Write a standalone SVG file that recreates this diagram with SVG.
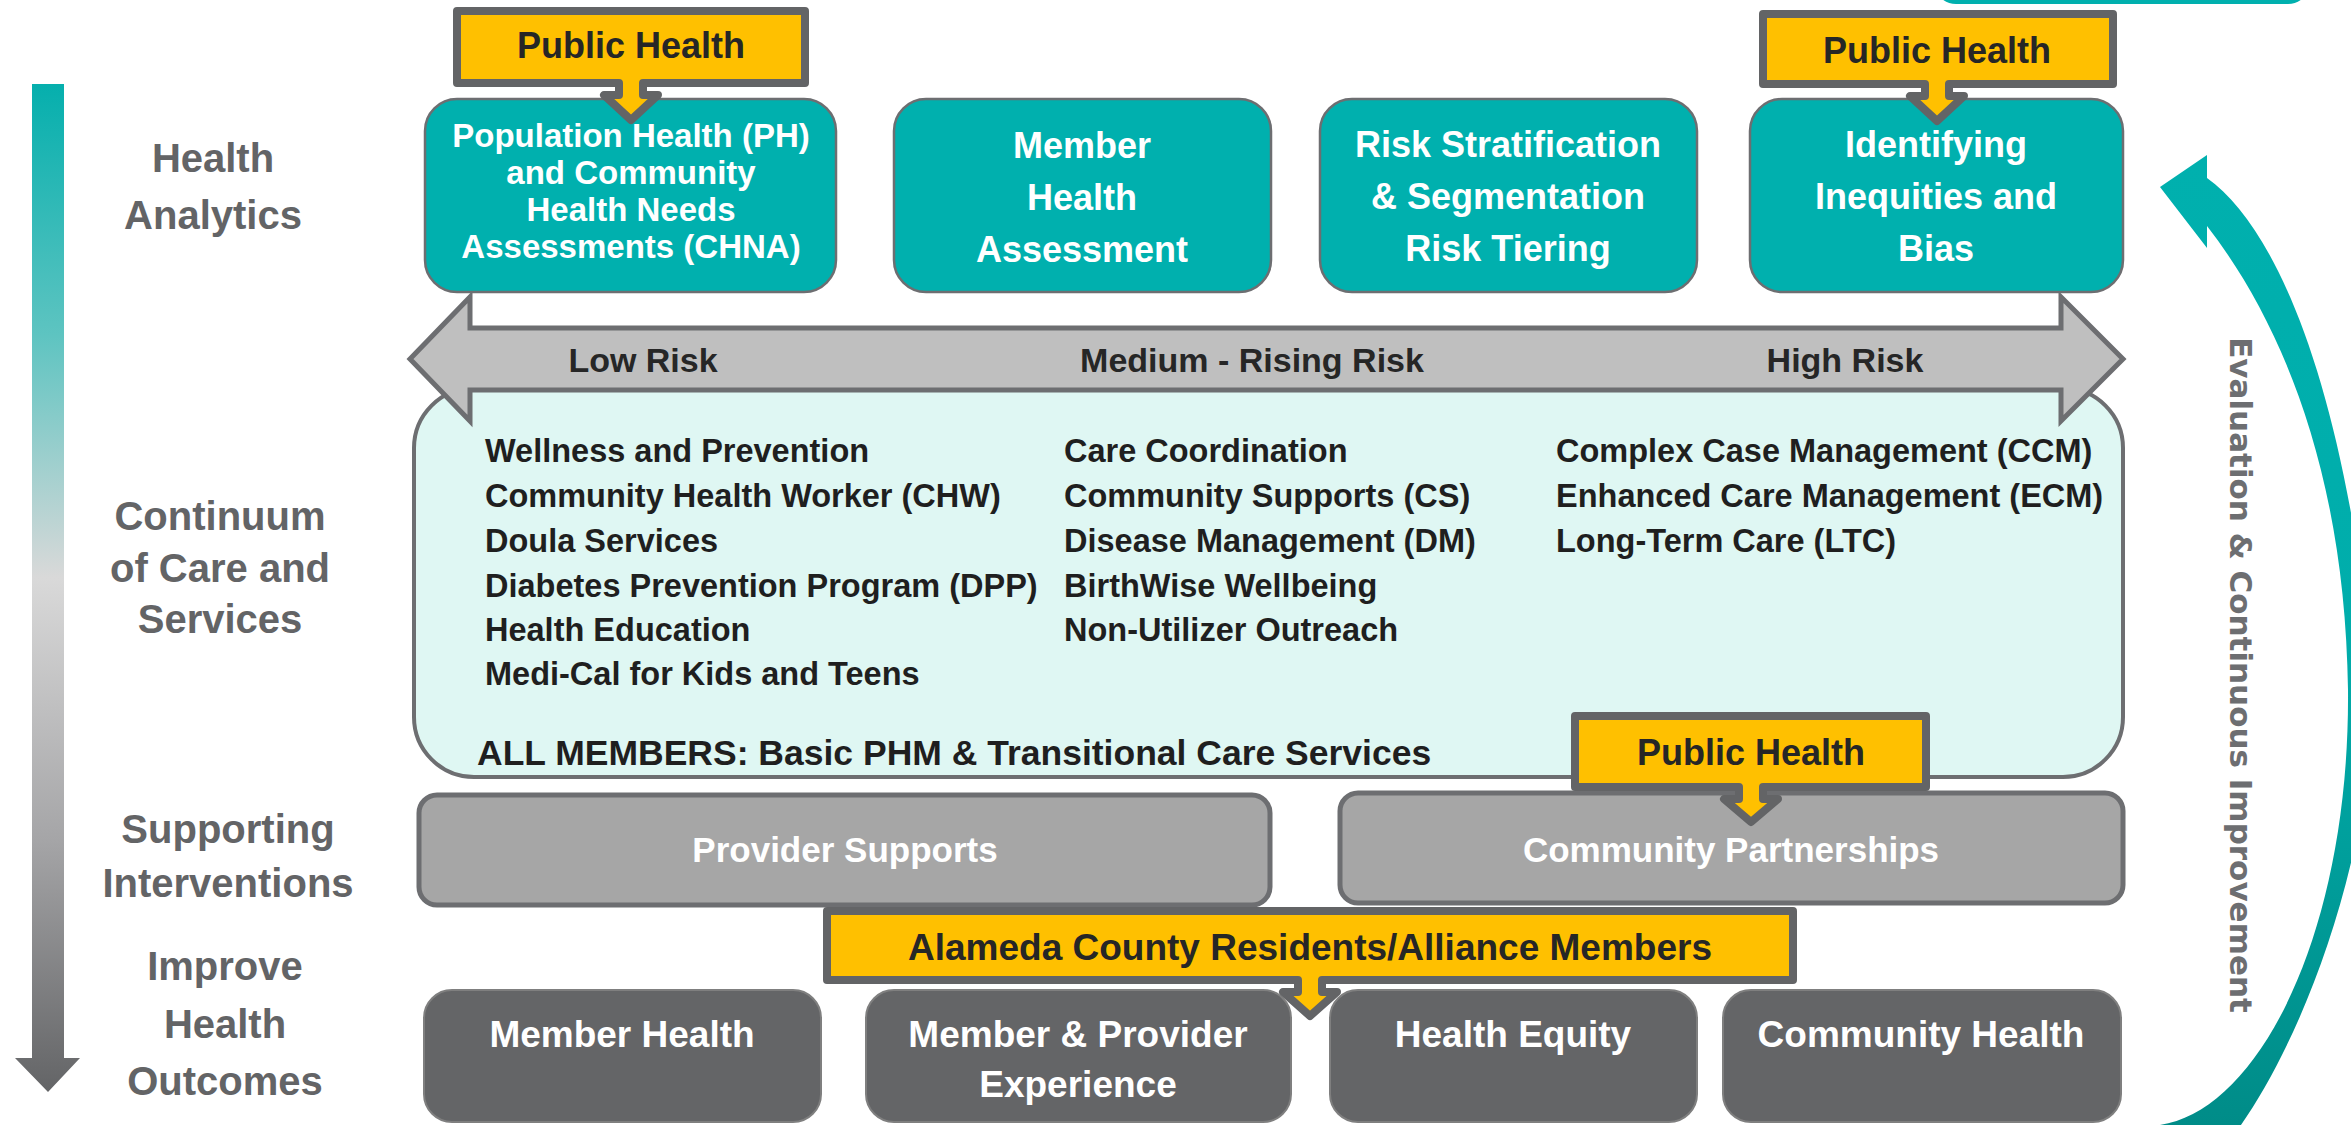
<svg xmlns="http://www.w3.org/2000/svg" width="2351" height="1125" viewBox="0 0 2351 1125">
<defs>
<linearGradient id="flowGrad" gradientUnits="userSpaceOnUse" x1="0" y1="84" x2="0" y2="1092">
<stop offset="0" stop-color="#05AFAD"/>
<stop offset="0.25" stop-color="#5EC4C1"/>
<stop offset="0.49" stop-color="#D9D9D9"/>
<stop offset="0.75" stop-color="#A5A5A7"/>
<stop offset="1" stop-color="#636466"/>
</linearGradient>
<linearGradient id="evalGrad" gradientUnits="userSpaceOnUse" x1="0" y1="150" x2="0" y2="1125">
<stop offset="0" stop-color="#00B0AE"/>
<stop offset="0.5" stop-color="#00ADAB"/>
<stop offset="1" stop-color="#008C88"/>
</linearGradient>
<style>
text{font-family:"Liberation Sans",Arial,sans-serif;font-weight:bold;}
.lbl{font-size:40px;fill:#636466;text-anchor:middle;}
.teal{fill:#00B0AE;stroke:#6D6E71;stroke-width:2.5;}
.tealtxt{fill:#FFFFFF;font-size:36px;text-anchor:middle;}
.call{fill:#FFC000;stroke:#636466;stroke-width:8;stroke-linejoin:round;}
.calltxt{fill:#262626;font-size:36px;text-anchor:middle;}
.risk{fill:#262626;font-size:34px;text-anchor:middle;}
.svc{fill:#1F1F1F;font-size:32.5px;}
.sup{fill:#A6A6A6;stroke:#6D6E71;stroke-width:5;}
.suptxt{fill:#FFFFFF;font-size:35px;text-anchor:middle;}
.out{fill:#646567;stroke:#7F7F7F;stroke-width:2;}
.outtxt{fill:#FFFFFF;font-size:37px;text-anchor:middle;}
</style>
</defs>
<rect x="0" y="0" width="2351" height="1125" fill="#FFFFFF"/>

<g id="top-right-cutoff">
<rect x="1936" y="-60" width="372" height="62" rx="20" fill="#FFFFFF" stroke="#00B0AE" stroke-width="4"/>
</g>

<g id="connectors">
<path id="flow-arrow" d="M32,84 H64 V1058 H80 L48,1092 L15,1058 H32 Z" fill="url(#flowGrad)"/>
<path id="eval-arrow" d="M2160,1125 C2260,1110 2350,930 2348,690 C2345,470 2280,320 2207,226 L2207,248 L2160,187 L2207,155 L2207,178 C2280,230 2350,400 2375,700 C2365,880 2300,1040 2241,1125 Z" fill="url(#evalGrad)"/>
<text transform="translate(2230,675) rotate(90)" text-anchor="middle" style="font-family:'DejaVu Sans',Verdana,sans-serif;font-weight:bold;font-size:31px;fill:#6D6E71;">Evaluation &amp; Continuous Improvement</text>
</g>

<g id="left-labels">
<text class="lbl" x="213" y="172">Health</text>
<text class="lbl" x="213" y="229">Analytics</text>
<text class="lbl" x="220" y="530">Continuum</text>
<text class="lbl" x="220" y="582">of Care and</text>
<text class="lbl" x="220" y="633">Services</text>
<text class="lbl" x="228" y="843">Supporting</text>
<text class="lbl" x="228" y="897">Interventions</text>
<text class="lbl" x="225" y="980">Improve</text>
<text class="lbl" x="225" y="1038">Health</text>
<text class="lbl" x="225" y="1095">Outcomes</text>
</g>

<g id="continuum-box">
<rect x="414" y="388" width="1709" height="389" rx="60" fill="#DFF7F3" stroke="#6D6E71" stroke-width="4"/>
<text class="svc" x="485" y="462">Wellness and Prevention</text>
<text class="svc" x="485" y="507">Community Health Worker (CHW)</text>
<text class="svc" x="485" y="552">Doula Services</text>
<text class="svc" x="485" y="597">Diabetes Prevention Program (DPP)</text>
<text class="svc" x="485" y="641">Health Education</text>
<text class="svc" x="485" y="685">Medi-Cal for Kids and Teens</text>
<text class="svc" x="1064" y="462">Care Coordination</text>
<text class="svc" x="1064" y="507">Community Supports (CS)</text>
<text class="svc" x="1064" y="552">Disease Management (DM)</text>
<text class="svc" x="1064" y="597">BirthWise Wellbeing</text>
<text class="svc" x="1064" y="641">Non-Utilizer Outreach</text>
<text class="svc" x="1556" y="462">Complex Case Management (CCM)</text>
<text class="svc" x="1556" y="507">Enhanced Care Management (ECM)</text>
<text class="svc" x="1556" y="552">Long-Term Care (LTC)</text>
<text class="svc" style="font-size:35.5px" x="477" y="765">ALL MEMBERS: Basic PHM &amp; Transitional Care Services</text>
</g>

<g id="risk-arrow">
<path d="M410,359 L470,297 L470,328 L2061,328 L2061,297 L2123,359 L2061,421 L2061,390 L470,390 L470,421 Z" fill="#BFBFBF" stroke="#6D6E71" stroke-width="5"/>
<text class="risk" x="643" y="372">Low Risk</text>
<text class="risk" x="1252" y="372">Medium - Rising Risk</text>
<text class="risk" x="1845" y="372">High Risk</text>
</g>

<g id="box-population-health">
<rect class="teal" x="425" y="99" width="411" height="193" rx="32"/>
<text class="tealtxt" style="font-size:33px" x="631" y="147">Population Health (PH)</text>
<text class="tealtxt" style="font-size:33px" x="631" y="184">and Community</text>
<text class="tealtxt" style="font-size:33px" x="631" y="221">Health Needs</text>
<text class="tealtxt" style="font-size:33px" x="631" y="258">Assessments (CHNA)</text>
</g>
<g id="box-member-health-assessment">
<rect class="teal" x="894" y="99" width="377" height="193" rx="32"/>
<text class="tealtxt" x="1082" y="158">Member</text>
<text class="tealtxt" x="1082" y="210">Health</text>
<text class="tealtxt" x="1082" y="262">Assessment</text>
</g>
<g id="box-risk-stratification">
<rect class="teal" x="1320" y="99" width="377" height="193" rx="32"/>
<text class="tealtxt" x="1508" y="157">Risk Stratification</text>
<text class="tealtxt" x="1508" y="209">&amp; Segmentation</text>
<text class="tealtxt" x="1508" y="261">Risk Tiering</text>
</g>
<g id="box-inequities">
<rect class="teal" x="1750" y="99" width="373" height="193" rx="32"/>
<text class="tealtxt" x="1936" y="157">Identifying</text>
<text class="tealtxt" x="1936" y="209">Inequities and</text>
<text class="tealtxt" x="1936" y="261">Bias</text>
</g>

<g id="callout-public-health-1">
<path class="call" d="M457,11 H805 V83 H643 V95 H658 L631,120 L604,95 H619 V83 H457 Z"/>
<text class="calltxt" x="631" y="58">Public Health</text>
</g>
<g id="callout-public-health-2">
<path class="call" d="M1763,14 H2113 V84 H1949 V96 H1964 L1937,121 L1910,96 H1925 V84 H1763 Z"/>
<text class="calltxt" x="1937" y="63">Public Health</text>
</g>

<g id="box-provider-supports">
<rect class="sup" x="419" y="795" width="851" height="110" rx="18"/>
<text class="suptxt" x="845" y="862">Provider Supports</text>
</g>
<g id="box-community-partnerships">
<rect class="sup" x="1340" y="793" width="783" height="110" rx="18"/>
<text class="suptxt" x="1731" y="862">Community Partnerships</text>
</g>
<g id="callout-public-health-3">
<path class="call" d="M1575,716 H1926 V787 H1763 V799 H1778 L1751,822 L1724,799 H1739 V787 H1575 Z"/>
<text class="calltxt" x="1751" y="765">Public Health</text>
</g>

<g id="box-member-health">
<rect class="out" x="424" y="990" width="397" height="132" rx="28"/>
<text class="outtxt" x="622" y="1047">Member Health</text>
</g>
<g id="box-member-provider-experience">
<rect class="out" x="866" y="990" width="425" height="132" rx="28"/>
<text class="outtxt" x="1078" y="1047">Member &amp; Provider</text>
<text class="outtxt" x="1078" y="1097">Experience</text>
</g>
<g id="box-health-equity">
<rect class="out" x="1330" y="990" width="367" height="132" rx="28"/>
<text class="outtxt" x="1513" y="1047">Health Equity</text>
</g>
<g id="box-community-health">
<rect class="out" x="1723" y="990" width="398" height="132" rx="28"/>
<text class="outtxt" x="1921" y="1047">Community Health</text>
</g>
<g id="callout-alameda">
<path class="call" d="M827,911 H1793 V980 H1322 V992 H1337 L1310,1016 L1283,992 H1298 V980 H827 Z"/>
<text class="calltxt" style="font-size:37px" x="1310" y="960">Alameda County Residents/Alliance Members</text>
</g>
</svg>
